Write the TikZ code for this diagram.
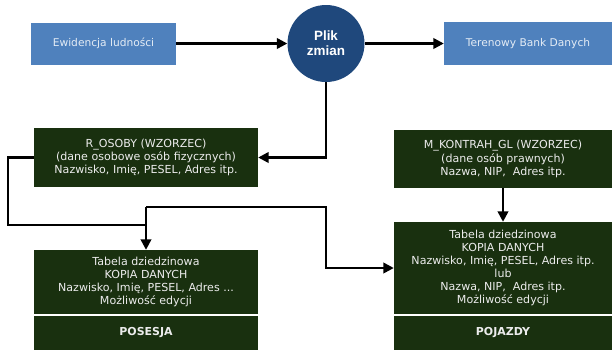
\documentclass[tikz,border=0pt]{standalone}
\usepackage{fontspec}
\setmainfont{DejaVu Sans}
\newfontfamily\circfont{Liberation Sans}
\usetikzlibrary{arrows.meta}
\definecolor{boxblue}{HTML}{4F81BD}
\definecolor{circblue}{HTML}{1F487C}
\definecolor{dkgreen}{HTML}{19300F}
\definecolor{lighttext}{HTML}{E4ECF5}
\definecolor{greentext}{HTML}{ECECEC}
\begin{document}
\begin{tikzpicture}[x=1bp,y=-1bp,
  bluebox/.style={rectangle, fill=boxblue, text=lighttext, inner sep=0pt,
    font=\fontsize{10.7}{13}\selectfont},
  greenbox/.style={rectangle, fill=dkgreen, text=greentext, inner sep=0pt,
    align=center, font=\fontsize{11.1}{13.2}\selectfont},
  boldbox/.style={greenbox, font=\bfseries\fontsize{11}{13}\selectfont},
  conn/.style={draw=black, line width=2.4bp, -{Triangle[length=10.5bp,width=10.5bp]}},
  plainline/.style={draw=black, line width=2.4bp}]
\useasboundingbox (0,0) rectangle (612,350);

\node[bluebox, minimum width=145bp, minimum height=42bp] (ewid) at (103.5,43.5) {Ewidencja ludności};
\node[circle, fill=circblue, minimum size=77bp, inner sep=0pt, text=white, align=center,
  font=\circfont\bfseries\fontsize{13.5}{15}\selectfont] (plik) at (326,43.5) {Plik\\zmian};
\node[bluebox, minimum width=168bp, minimum height=43bp] (bank) at (528,43.5) {Terenowy Bank Danych};

\node[greenbox, minimum width=224bp, minimum height=59bp] (ros) at (146,157.5)
  {R\_OSOBY (WZORZEC)\\(dane osobowe osób fizycznych)\\Nazwisko, Imię, PESEL, Adres itp.};
\node[greenbox, minimum width=218bp, minimum height=58bp] (mk) at (503,159)
  {M\_KONTRAH\_GL (WZORZEC)\\(dane osób prawnych)\\Nazwa, NIP,\ \ Adres itp.};
\node[greenbox, minimum width=224bp, minimum height=64bp] (lowl) at (146,282)
  {Tabela dziedzinowa\\KOPIA DANYCH\\Nazwisko, Imię, PESEL, Adres ...\\Możliwość edycji};
\node[boldbox, minimum width=224bp, minimum height=34bp] (pos) at (146,333) {POSESJA};
\node[greenbox, minimum width=218bp, minimum height=92bp] (lowr) at (503,268)
  {Tabela dziedzinowa\\KOPIA DANYCH\\Nazwisko, Imię, PESEL, Adres itp.\\lub\\Nazwa, NIP,\ \ Adres itp.\\Możliwość edycji};
\node[boldbox, minimum width=218bp, minimum height=34bp] (poj) at (503,333) {POJAZDY};

\coordinate (lx) at (8,225);
\coordinate (j1) at (146,225);
\coordinate (j2) at (146,207);
\coordinate (bend) at (326,207);

\draw[conn] (ewid.east) -- (plik.west);
\draw[conn] (plik.east) -- (bank.west);
\draw[conn] (plik.south) |- (ros.east);
\draw[plainline] (ros.west) -| (lx) -- (j1);
\draw[conn] (j2) -- (lowl.north);
\draw[conn] (j2) -- (bend) |- (lowr.west);
\draw[conn] (mk.south) -- (lowr.north);
\end{tikzpicture}
\end{document}
